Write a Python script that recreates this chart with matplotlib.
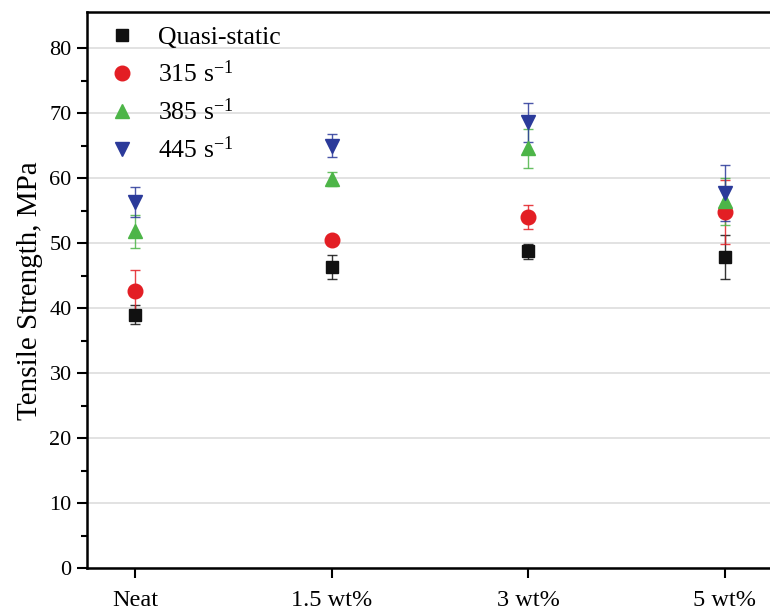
import matplotlib
matplotlib.use("Agg")
import matplotlib.pyplot as plt
import numpy as np

plt.rcParams['font.family'] = ['Liberation Serif', 'DejaVu Serif']
plt.rcParams['mathtext.fontset'] = 'custom'
plt.rcParams['mathtext.rm'] = 'Liberation Serif'
plt.rcParams['mathtext.it'] = 'Liberation Serif:italic'

# filler content groups
groups = ['Neat', '1.5 wt%', '3 wt%', '5 wt%']

# tensile strength (MPa) and standard deviation for each strain rate
quasi_mean = [39.0, 46.3, 48.7, 47.8]
quasi_err = [1.5, 1.9, 1.2, 3.4]
r315_mean = [42.6, 50.5, 54.0, 54.8]
r315_err = [3.2, 0.8, 1.9, 4.9]
r385_mean = [51.8, 59.8, 64.6, 56.4]
r385_err = [2.5, 1.1, 3.0, 3.6]
r445_mean = [56.3, 65.0, 68.6, 57.7]
r445_err = [2.3, 1.8, 3.0, 4.3]

series = [
    ('Quasi-static', quasi_mean, quasi_err, 's', '#111111', 8.5),
    ('315 s$^{-1}$', r315_mean, r315_err, 'o', '#e31e24', 10.5),
    ('385 s$^{-1}$', r385_mean, r385_err, '^', '#4db548', 10.5),
    ('445 s$^{-1}$', r445_mean, r445_err, 'v', '#2b3a9a', 10.5),
]

fig = plt.figure(figsize=(7.7, 6.13), dpi=100)
ax = fig.add_axes([0.113, 0.0734, 0.887, 0.9066])

x = np.arange(1, len(groups) + 1)
for label, mean, err, mk, col, ms in series:
    ax.errorbar(x, mean, yerr=err, fmt='none', ecolor=col, elinewidth=1.0,
                capsize=3.6, capthick=1.0, alpha=0.85, zorder=3)
    ax.plot(x, mean, linestyle='none', marker=mk, color=col, markersize=ms,
            label=label, zorder=4)

ax.set_xlim(0.756, 4.23)
ax.set_ylim(0, 85.5)
ax.set_xticks(x)
ax.set_xticklabels(groups, fontsize=17.5)
ax.set_yticks(np.arange(0, 81, 10))
ax.set_yticks(np.arange(5, 81, 10), minor=True)
ax.tick_params(axis='y', which='major', direction='out', length=7.5, width=1.5, labelsize=16)
ax.tick_params(axis='y', which='minor', direction='out', length=4.5, width=1.5)
ax.tick_params(axis='x', which='major', direction='out', length=7, width=1.5, pad=9)
ax.set_ylabel('Tensile Strength, MPa', fontsize=21, labelpad=5)

ax.yaxis.grid(True, color='#dddddd', linewidth=1.2)
ax.set_axisbelow(True)
for side in ['left', 'bottom', 'top']:
    ax.spines[side].set_linewidth(1.8)
ax.spines['right'].set_visible(False)

ax.legend(loc='upper left', frameon=False, fontsize=18.5, handletextpad=0.6,
          labelspacing=0.44, borderaxespad=0.3, borderpad=0.25, handlelength=1.6)

fig.savefig('out.png', dpi=100)
